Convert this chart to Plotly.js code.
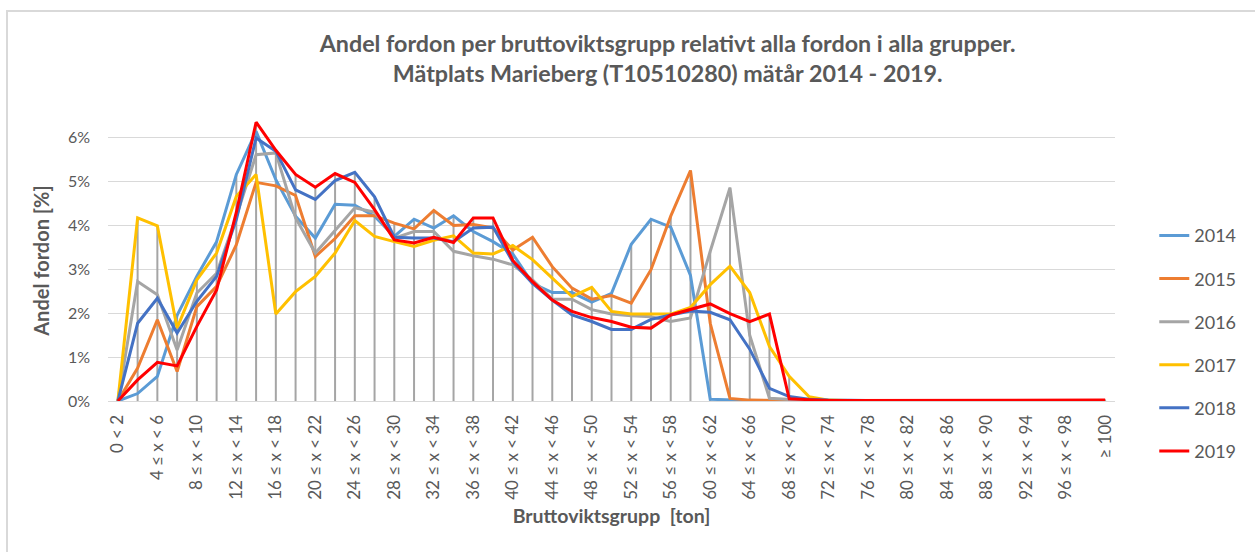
<!DOCTYPE html>
<html>
<head>
<meta charset="utf-8">
<script src="https://cdn.plot.ly/plotly-3.0.1.min.js"></script>
<style>
  html, body { margin: 0; padding: 0; background: #ffffff; }
  #wrap { position: relative; width: 1255px; height: 552px; overflow: hidden; }
  #frame { position: absolute; left: 6px; top: 10px; width: 1400px; height: 700px; border: 2px solid #d9d9d9; pointer-events: none; }
  #chart { position: absolute; left: 0; top: 0; width: 1255px; height: 552px; }
</style>
</head>
<body>
<div id="wrap">
  <div id="chart"></div>
  <div id="frame"></div>
</div>
<script>
// Category labels (gross weight groups, ton)
const categories = ["0 < 2"];
const lowerBounds = [2,4,6,8,10,12,14,16,18,20,22,24,26,28,30,32,34,36,38,40,42,44,46,48,50,52,54,56,58,60,62,64,66,68,70,72,74,76,78,80,82,84,86,88,90,92,94,96,98];
lowerBounds.forEach(function (b) { categories.push(b + " \u2264 x < " + (b + 2)); });
categories.push("\u2265 100");

const years = ["2014", "2015", "2016", "2017", "2018", "2019"];

// Share of vehicles [%] per category
const v2014 = [0, 0.17, 0.56, 1.95, 2.84, 3.63, 5.16, 6.14, 5.04, 4.21, 3.71, 4.48, 4.46, 4.21, 3.75, 4.14, 3.94, 4.22, 3.86, 3.63, 3.35, 2.68, 2.47, 2.47, 2.25, 2.45, 3.57, 4.14, 3.96, 2.86, 0.04, 0.02, 0.01, 0.01, 0.01, 0.01, 0.01, 0.01, 0.01, 0.01, 0.01, 0.01, 0.01, 0.01, 0.01, 0.01, 0.01, 0.01, 0.01, 0.01, 0.01];
const v2015 = [0, 0.75, 1.85, 0.67, 2.15, 2.61, 3.56, 4.98, 4.90, 4.68, 3.29, 3.70, 4.22, 4.22, 4.05, 3.92, 4.34, 4.00, 4.02, 3.94, 3.44, 3.73, 3.06, 2.57, 2.32, 2.40, 2.23, 2.99, 4.21, 5.25, 1.77, 0.06, 0.02, 0.01, 0.01, 0.01, 0.01, 0.01, 0.01, 0.01, 0.01, 0.01, 0.01, 0.01, 0.01, 0.01, 0.01, 0.01, 0.01, 0.01, 0.01];
const v2016 = [0, 2.72, 2.42, 1.16, 2.46, 2.91, 4.20, 5.61, 5.65, 4.17, 3.37, 3.88, 4.40, 4.30, 3.71, 3.86, 3.86, 3.41, 3.31, 3.23, 3.10, 2.76, 2.32, 2.32, 2.08, 1.98, 1.94, 1.92, 1.81, 1.89, 3.41, 4.86, 1.50, 0.06, 0.04, 0.01, 0.01, 0.01, 0.01, 0.01, 0.01, 0.01, 0.01, 0.01, 0.01, 0.01, 0.01, 0.01, 0.01, 0.01, 0.01];
const v2017 = [0, 4.17, 3.99, 1.66, 2.76, 3.37, 4.66, 5.16, 1.98, 2.49, 2.84, 3.37, 4.11, 3.75, 3.63, 3.52, 3.66, 3.76, 3.37, 3.35, 3.54, 3.22, 2.80, 2.38, 2.59, 2.04, 1.98, 1.98, 1.98, 2.13, 2.65, 3.07, 2.47, 1.24, 0.56, 0.10, 0.02, 0.01, 0.01, 0.01, 0.01, 0.01, 0.01, 0.01, 0.01, 0.01, 0.02, 0.02, 0.02, 0.01, 0.01];
const v2018 = [0, 1.77, 2.34, 1.55, 2.27, 2.84, 4.13, 5.99, 5.69, 4.81, 4.59, 5.02, 5.21, 4.65, 3.73, 3.71, 3.71, 3.63, 3.94, 3.96, 3.17, 2.68, 2.30, 1.96, 1.81, 1.63, 1.63, 1.86, 1.96, 2.05, 2.02, 1.85, 1.18, 0.29, 0.10, 0.04, 0.02, 0.01, 0.01, 0.01, 0.01, 0.01, 0.01, 0.01, 0.01, 0.01, 0.01, 0.01, 0.01, 0.01, 0.01];
const v2019 = [0, 0.48, 0.88, 0.80, 1.70, 2.53, 4.30, 6.35, 5.71, 5.16, 4.87, 5.18, 4.98, 4.36, 3.67, 3.60, 3.73, 3.61, 4.17, 4.17, 3.20, 2.72, 2.30, 2.04, 1.90, 1.81, 1.68, 1.66, 1.96, 2.09, 2.21, 1.99, 1.81, 1.98, 0.05, 0.03, 0.01, 0.01, 0.01, 0.01, 0.01, 0.01, 0.01, 0.01, 0.01, 0.01, 0.01, 0.01, 0.01, 0.01, 0.02];

const yTickVals = [0, 1, 2, 3, 4, 5, 6];
const yTickText = ["0%", "1%", "2%", "3%", "4%", "5%", "6%"];

const seriesValues = [v2014, v2015, v2016, v2017, v2018, v2019];
const seriesColors = ["#5B9BD5", "#ED7D31", "#A5A5A5", "#FFC000", "#4472C4", "#FF0000"];

const FONT = "Lato, 'Open Sans', 'DejaVu Sans', sans-serif";
const TXT = "#595959";

// Drop lines (from highest series value down to the axis) at each category
const dropX = [], dropY = [];
categories.forEach(function (c, i) {
  let m = 0;
  seriesValues.forEach(function (s) { if (s[i] > m) m = s[i]; });
  dropX.push(c, c, null);
  dropY.push(0, m, null);
});

const traces = [{
  type: "scatter", mode: "lines", x: dropX, y: dropY,
  line: { color: "#A5A5A5", width: 2 }, showlegend: false, hoverinfo: "skip"
}];

years.forEach(function (yr, k) {
  traces.push({
    type: "scatter", mode: "lines", name: yr,
    x: categories, y: seriesValues[k],
    line: { color: seriesColors[k], width: 3 },
    legendgroup: "g" + k
  });
});

const layout = {
  width: 1255, height: 552,
  margin: { l: 108, r: 140, t: 120, b: 151 },
  paper_bgcolor: "rgba(0,0,0,0)", plot_bgcolor: "#ffffff",
  font: { family: FONT, color: TXT, size: 16 },
  title: {
    text: "<b>Andel fordon per bruttoviktsgrupp relativt alla fordon i alla grupper.<br>Mätplats Marieberg (T10510280) mätår 2014 - 2019.</b>",
    font: { family: FONT, size: 23.3, color: TXT },
    x: 0.532, xanchor: "center", xref: "container",
    y: 0.906, yanchor: "top", yref: "container"
  },
  xaxis: {
    type: "category", categoryorder: "array", categoryarray: categories,
    range: [-0.5, 50.5], dtick: 2, tickangle: -90,
    tickfont: { family: FONT, size: 17, color: TXT },
    showgrid: false, zeroline: false,
    showline: true, linecolor: "#d9d9d9", linewidth: 1,
    ticks: "", ticklabelstandoff: 6,
    title: { text: "<b>Bruttoviktsgrupp  [ton]</b>", font: { family: FONT, size: 19.5, color: TXT }, standoff: 10 }
  },
  yaxis: {
    range: [0, 6.4], tickvals: yTickVals, ticktext: yTickText,
    tickfont: { family: FONT, size: 16, color: TXT },
    showgrid: true, gridcolor: "#d9d9d9", gridwidth: 1,
    zeroline: false, showline: false, ticks: "", ticklabelstandoff: 17,
    title: { text: "<b>Andel fordon [%]</b>", font: { family: FONT, size: 20, color: TXT }, standoff: 12 }
  },
  legend: {
    x: 1.039, xanchor: "left", y: 0.654, yanchor: "top",
    font: { family: FONT, size: 18, color: TXT },
    tracegroupgap: 16.7, traceorder: "grouped", bgcolor: "rgba(0,0,0,0)"
  },
  showlegend: true
};

Plotly.newPlot("chart", traces, layout, { displayModeBar: false, staticPlot: true });
</script>
</body>
</html>
